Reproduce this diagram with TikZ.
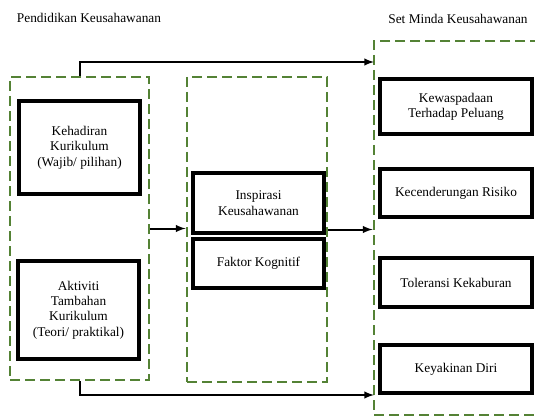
\documentclass[tikz,border=0pt]{standalone}
\usepackage{fontspec}
\setmainfont{Liberation Serif}
\newfontfamily\boxfont{Liberation Serif}
\usepackage{tikz}
\usetikzlibrary{calc,positioning}

\definecolor{dashgreen}{RGB}{84,130,53}

\begin{document}
\begin{tikzpicture}[
            x=0.75pt,y=-0.75pt,
            every node/.append style={font=\boxfont\fontsize{10}{11.5}\selectfont,align=center,black},
            group/.style={draw=dashgreen,line width=2.1pt,dash pattern=on 7.5pt off 3.75pt,minimum width=#1},
            item/.style={draw,line width=2.5pt,inner sep=2pt},
            arr/.style={line width=1.5pt,-latex}
        ]
            \useasboundingbox (0,0) rectangle (535,417);
            \clip (0,0) rectangle (535,417);

            % titles
            \node (titleL) at (89,18) {Pendidikan Keusahawanan};
            \node (titleR) at (458,19) {Set Minda Keusahawanan};

            % dashed groups
            \node[group=104.25pt,minimum height=227.25pt] (grpL) at (79.5,228.5) {};
            \node[group=105pt,minimum height=228.75pt] (grpM) at (257,229.5) {};
            \node[group=124.5pt,minimum height=280.5pt] (grpR) at (457,228) {};

            % left boxes
            \node[item,minimum width=90.75pt,minimum height=69.75pt] (kehadiran) at (79.5,147.5)
                {Kehadiran\\Kurikulum\\(Wajib/ pilihan)};
            \node[item,minimum width=90.75pt,minimum height=73.5pt] (aktiviti) at (78.5,310)
                {Aktiviti\\Tambahan\\Kurikulum\\(Teori/ praktikal)};

            % middle boxes
            \node[item,minimum width=98.25pt,minimum height=45pt] (inspirasi) at (258.5,203)
                {Inspirasi\\Keusahawanan};
            \node[item,minimum width=98.25pt,minimum height=36.75pt] (faktor) at (258.5,263.5)
                {Faktor Kognitif};

            % right boxes
            \node[item,minimum width=114pt,minimum height=41.25pt] (kewaspadaan) at (456,106.5)
                {Kewaspadaan\\Terhadap Peluang};
            \node[item,minimum width=114pt,minimum height=36pt] (risiko) at (456,193)
                {Kecenderungan Risiko};
            \node[item,minimum width=114pt,minimum height=36.75pt] (toleransi) at (456,282.5)
                {Toleransi Kekaburan};
            \node[item,minimum width=114pt,minimum height=36pt] (keyakinan) at (456,369)
                {Keyakinan Diri};

            % connectors
            \coordinate (topin) at (374,62);
            \coordinate (botin) at (374,395);
            \draw[arr] (grpL.north) |- (topin);
            \draw[arr] (grpL.south) |- (botin);
            \draw[arr] (grpL.east) -- (grpL.east -| grpM.west);
            \draw[arr] (grpM.east) -- (grpM.east -| grpR.west);
        \end{tikzpicture}
\end{document}
